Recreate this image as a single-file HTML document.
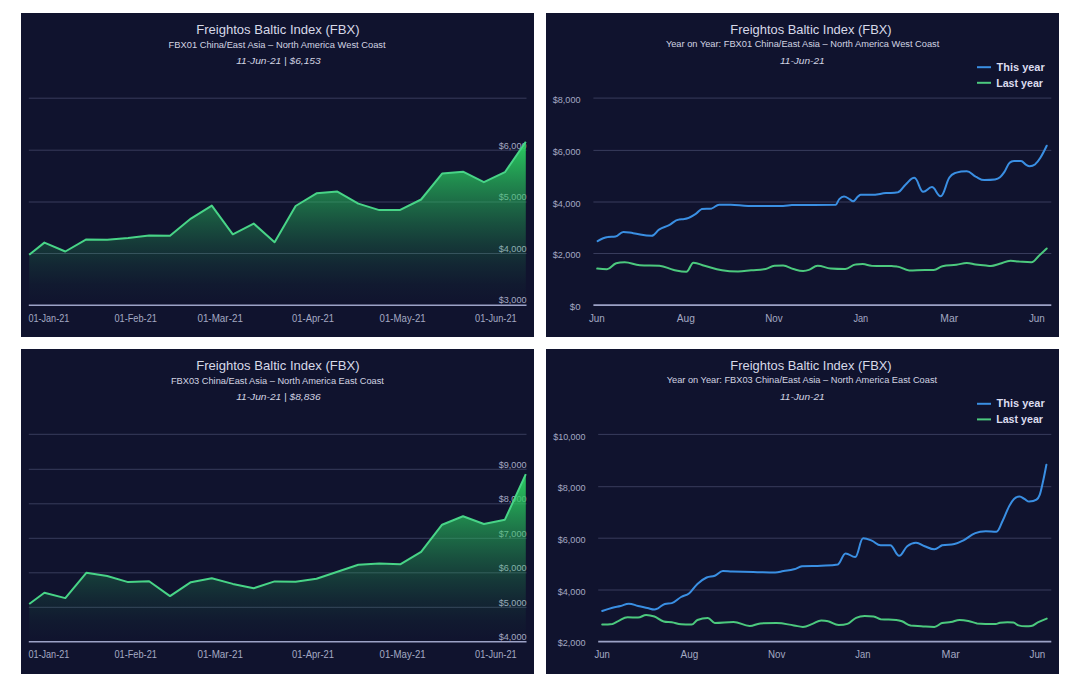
<!DOCTYPE html><html><head><meta charset="utf-8"><style>html,body{margin:0;padding:0;background:#fff;width:1080px;height:687px;overflow:hidden}svg{display:block}text{font-family:"Liberation Sans", sans-serif}</style></head><body>
<svg width="1080" height="687" viewBox="0 0 1080 687">
<defs><linearGradient id="g1" gradientUnits="userSpaceOnUse" x1="0" y1="142" x2="0" y2="305"><stop offset="0.000" stop-color="#2acd60" stop-opacity="1.000"/><stop offset="0.125" stop-color="#2acd60" stop-opacity="0.808"/><stop offset="0.250" stop-color="#2acd60" stop-opacity="0.631"/><stop offset="0.375" stop-color="#2acd60" stop-opacity="0.471"/><stop offset="0.500" stop-color="#2acd60" stop-opacity="0.330"/><stop offset="0.625" stop-color="#2acd60" stop-opacity="0.208"/><stop offset="0.750" stop-color="#2acd60" stop-opacity="0.109"/><stop offset="0.875" stop-color="#2acd60" stop-opacity="0.036"/><stop offset="1.000" stop-color="#2acd60" stop-opacity="0.000"/></linearGradient><linearGradient id="g3" gradientUnits="userSpaceOnUse" x1="0" y1="474" x2="0" y2="642"><stop offset="0.000" stop-color="#2acd60" stop-opacity="1.000"/><stop offset="0.125" stop-color="#2acd60" stop-opacity="0.808"/><stop offset="0.250" stop-color="#2acd60" stop-opacity="0.631"/><stop offset="0.375" stop-color="#2acd60" stop-opacity="0.471"/><stop offset="0.500" stop-color="#2acd60" stop-opacity="0.330"/><stop offset="0.625" stop-color="#2acd60" stop-opacity="0.208"/><stop offset="0.750" stop-color="#2acd60" stop-opacity="0.109"/><stop offset="0.875" stop-color="#2acd60" stop-opacity="0.036"/><stop offset="1.000" stop-color="#2acd60" stop-opacity="0.000"/></linearGradient></defs>
<rect x="0" y="0" width="1080" height="687" fill="#fff"/>
<rect x="21" y="13" width="513" height="324" fill="#10132e"/>
<text x="277.9" y="34" font-size="13" fill="#d7d9e8" text-anchor="middle" font-weight="normal" font-style="normal" textLength="163.5" lengthAdjust="spacingAndGlyphs">Freightos Baltic Index (FBX)</text>
<text x="277.1" y="47.6" font-size="9.2" fill="#d2d4e2" text-anchor="middle" font-weight="normal" font-style="normal" textLength="217" lengthAdjust="spacingAndGlyphs">FBX01 China/East Asia – North America West Coast</text>
<text x="278.4" y="64.4" font-size="9.3" fill="#d2d4e2" text-anchor="middle" font-weight="normal" font-style="italic" textLength="84.5" lengthAdjust="spacingAndGlyphs">11-Jun-21 | $6,153</text>
<line x1="28.8" y1="98.2" x2="526.5" y2="98.2" stroke="#383c5c" stroke-width="1"/>
<line x1="28.8" y1="150.2" x2="526.5" y2="150.2" stroke="#383c5c" stroke-width="1"/>
<line x1="28.8" y1="202" x2="526.5" y2="202" stroke="#383c5c" stroke-width="1"/>
<line x1="28.8" y1="253.5" x2="526.5" y2="253.5" stroke="#383c5c" stroke-width="1"/>
<line x1="28.8" y1="305.3" x2="526.5" y2="305.3" stroke="#9ca2c6" stroke-width="1.6"/>
<text x="526.5" y="148.5" font-size="9.6" fill="#a4a9c3" text-anchor="end" font-weight="normal" font-style="normal" textLength="27.8" lengthAdjust="spacingAndGlyphs">$6,000</text>
<text x="526.5" y="200.2" font-size="9.6" fill="#a4a9c3" text-anchor="end" font-weight="normal" font-style="normal" textLength="27.8" lengthAdjust="spacingAndGlyphs">$5,000</text>
<text x="526.5" y="251.6" font-size="9.6" fill="#a4a9c3" text-anchor="end" font-weight="normal" font-style="normal" textLength="27.8" lengthAdjust="spacingAndGlyphs">$4,000</text>
<text x="526.5" y="303.2" font-size="9.6" fill="#a4a9c3" text-anchor="end" font-weight="normal" font-style="normal" textLength="27.8" lengthAdjust="spacingAndGlyphs">$3,000</text>
<text x="28.4" y="321.6" font-size="10" fill="#a4a9c3" text-anchor="start" font-weight="normal" font-style="normal" textLength="40.9" lengthAdjust="spacingAndGlyphs">01-Jan-21</text>
<text x="114.4" y="321.6" font-size="10" fill="#a4a9c3" text-anchor="start" font-weight="normal" font-style="normal" textLength="42.5" lengthAdjust="spacingAndGlyphs">01-Feb-21</text>
<text x="197.4" y="321.6" font-size="10" fill="#a4a9c3" text-anchor="start" font-weight="normal" font-style="normal" textLength="45.5" lengthAdjust="spacingAndGlyphs">01-Mar-21</text>
<text x="292.1" y="321.6" font-size="10" fill="#a4a9c3" text-anchor="start" font-weight="normal" font-style="normal" textLength="42" lengthAdjust="spacingAndGlyphs">01-Apr-21</text>
<text x="379.6" y="321.6" font-size="10" fill="#a4a9c3" text-anchor="start" font-weight="normal" font-style="normal" textLength="46.1" lengthAdjust="spacingAndGlyphs">01-May-21</text>
<text x="475.1" y="321.6" font-size="10" fill="#a4a9c3" text-anchor="start" font-weight="normal" font-style="normal" textLength="41.6" lengthAdjust="spacingAndGlyphs">01-Jun-21</text>
<polygon points="29.2,254.8 44.4,242.6 65.3,251.5 86.3,239.4 107.2,239.8 128.1,237.9 149.1,235.5 170,235.7 190.9,218.6 211.8,205.6 232.8,234.3 253.7,223.6 274.6,242.2 295.6,206 316.5,193.3 337.4,191.6 358.3,203.6 379.3,210.1 400.2,209.9 421.1,199.5 442.1,173.6 463,171.7 483.9,182.2 504.9,172.2 525.8,141.8 525.8,305.3 29.2,305.3" fill="url(#g1)"/>
<polyline points="29.2,254.8 44.4,242.6 65.3,251.5 86.3,239.4 107.2,239.8 128.1,237.9 149.1,235.5 170,235.7 190.9,218.6 211.8,205.6 232.8,234.3 253.7,223.6 274.6,242.2 295.6,206 316.5,193.3 337.4,191.6 358.3,203.6 379.3,210.1 400.2,209.9 421.1,199.5 442.1,173.6 463,171.7 483.9,182.2 504.9,172.2 525.8,141.8" fill="none" stroke="#48d487" stroke-width="2" stroke-linejoin="round"/>
<rect x="21" y="349" width="513" height="325" fill="#10132e"/>
<text x="277.9" y="370" font-size="13" fill="#d7d9e8" text-anchor="middle" font-weight="normal" font-style="normal" textLength="163.5" lengthAdjust="spacingAndGlyphs">Freightos Baltic Index (FBX)</text>
<text x="277.4" y="383.6" font-size="9.2" fill="#d2d4e2" text-anchor="middle" font-weight="normal" font-style="normal" textLength="213" lengthAdjust="spacingAndGlyphs">FBX03 China/East Asia – North America East Coast</text>
<text x="278.4" y="400.4" font-size="9.3" fill="#d2d4e2" text-anchor="middle" font-weight="normal" font-style="italic" textLength="84.5" lengthAdjust="spacingAndGlyphs">11-Jun-21 | $8,836</text>
<line x1="28.8" y1="434.3" x2="526.5" y2="434.3" stroke="#383c5c" stroke-width="1"/>
<line x1="28.8" y1="469.3" x2="526.5" y2="469.3" stroke="#383c5c" stroke-width="1"/>
<line x1="28.8" y1="503.8" x2="526.5" y2="503.8" stroke="#383c5c" stroke-width="1"/>
<line x1="28.8" y1="538.3" x2="526.5" y2="538.3" stroke="#383c5c" stroke-width="1"/>
<line x1="28.8" y1="572.8" x2="526.5" y2="572.8" stroke="#383c5c" stroke-width="1"/>
<line x1="28.8" y1="607.3" x2="526.5" y2="607.3" stroke="#383c5c" stroke-width="1"/>
<line x1="28.8" y1="641.7" x2="526.5" y2="641.7" stroke="#9ca2c6" stroke-width="1.6"/>
<text x="526.5" y="467.5" font-size="9.6" fill="#a4a9c3" text-anchor="end" font-weight="normal" font-style="normal" textLength="27.8" lengthAdjust="spacingAndGlyphs">$9,000</text>
<text x="526.5" y="502" font-size="9.6" fill="#a4a9c3" text-anchor="end" font-weight="normal" font-style="normal" textLength="27.8" lengthAdjust="spacingAndGlyphs">$8,000</text>
<text x="526.5" y="536.5" font-size="9.6" fill="#a4a9c3" text-anchor="end" font-weight="normal" font-style="normal" textLength="27.8" lengthAdjust="spacingAndGlyphs">$7,000</text>
<text x="526.5" y="571" font-size="9.6" fill="#a4a9c3" text-anchor="end" font-weight="normal" font-style="normal" textLength="27.8" lengthAdjust="spacingAndGlyphs">$6,000</text>
<text x="526.5" y="605.5" font-size="9.6" fill="#a4a9c3" text-anchor="end" font-weight="normal" font-style="normal" textLength="27.8" lengthAdjust="spacingAndGlyphs">$5,000</text>
<text x="526.5" y="640" font-size="9.6" fill="#a4a9c3" text-anchor="end" font-weight="normal" font-style="normal" textLength="27.8" lengthAdjust="spacingAndGlyphs">$4,000</text>
<text x="28.4" y="657.8" font-size="10" fill="#a4a9c3" text-anchor="start" font-weight="normal" font-style="normal" textLength="40.9" lengthAdjust="spacingAndGlyphs">01-Jan-21</text>
<text x="114.4" y="657.8" font-size="10" fill="#a4a9c3" text-anchor="start" font-weight="normal" font-style="normal" textLength="42.5" lengthAdjust="spacingAndGlyphs">01-Feb-21</text>
<text x="197.4" y="657.8" font-size="10" fill="#a4a9c3" text-anchor="start" font-weight="normal" font-style="normal" textLength="45.5" lengthAdjust="spacingAndGlyphs">01-Mar-21</text>
<text x="292.1" y="657.8" font-size="10" fill="#a4a9c3" text-anchor="start" font-weight="normal" font-style="normal" textLength="42" lengthAdjust="spacingAndGlyphs">01-Apr-21</text>
<text x="379.6" y="657.8" font-size="10" fill="#a4a9c3" text-anchor="start" font-weight="normal" font-style="normal" textLength="46.1" lengthAdjust="spacingAndGlyphs">01-May-21</text>
<text x="475.1" y="657.8" font-size="10" fill="#a4a9c3" text-anchor="start" font-weight="normal" font-style="normal" textLength="41.6" lengthAdjust="spacingAndGlyphs">01-Jun-21</text>
<polygon points="29.2,604 44.4,592.8 65.3,598.1 86.3,572.8 107.2,576 128.1,582.1 149.1,581.2 170,596.1 190.9,582.2 211.8,578.3 232.8,583.9 253.7,588.2 274.6,581.4 295.6,581.7 316.5,578.7 337.4,571.7 358.3,564.7 379.3,563.5 400.2,564.3 421.1,551.8 442.1,524.7 463,516.2 483.9,524 504.9,519.7 525.8,474.2 525.8,641.7 29.2,641.7" fill="url(#g3)"/>
<polyline points="29.2,604 44.4,592.8 65.3,598.1 86.3,572.8 107.2,576 128.1,582.1 149.1,581.2 170,596.1 190.9,582.2 211.8,578.3 232.8,583.9 253.7,588.2 274.6,581.4 295.6,581.7 316.5,578.7 337.4,571.7 358.3,564.7 379.3,563.5 400.2,564.3 421.1,551.8 442.1,524.7 463,516.2 483.9,524 504.9,519.7 525.8,474.2" fill="none" stroke="#48d487" stroke-width="2" stroke-linejoin="round"/>
<rect x="546" y="13" width="513" height="324" fill="#10132e"/>
<text x="811" y="34" font-size="13" fill="#d7d9e8" text-anchor="middle" font-weight="normal" font-style="normal" textLength="161.3" lengthAdjust="spacingAndGlyphs">Freightos Baltic Index (FBX)</text>
<text x="802.6" y="47.2" font-size="9.2" fill="#d2d4e2" text-anchor="middle" font-weight="normal" font-style="normal" textLength="273.4" lengthAdjust="spacingAndGlyphs">Year on Year: FBX01 China/East Asia – North America West Coast</text>
<text x="802.3" y="64.4" font-size="9.3" fill="#d2d4e2" text-anchor="middle" font-weight="normal" font-style="italic" textLength="44.8" lengthAdjust="spacingAndGlyphs">11-Jun-21</text>
<line x1="977" y1="67.2" x2="991" y2="67.2" stroke="#3a8fe3" stroke-width="2"/>
<text x="996.6" y="70.7" font-size="10.8" fill="#dcdcee" text-anchor="start" font-weight="bold" font-style="normal" textLength="48.1" lengthAdjust="spacingAndGlyphs">This year</text>
<line x1="977" y1="82.8" x2="991" y2="82.8" stroke="#4cc97e" stroke-width="2"/>
<text x="996.2" y="86.5" font-size="10.8" fill="#dcdcee" text-anchor="start" font-weight="bold" font-style="normal" textLength="46.8" lengthAdjust="spacingAndGlyphs">Last year</text>
<line x1="593.4" y1="98.1" x2="1051.3" y2="98.1" stroke="#383c5c" stroke-width="1"/>
<line x1="593.4" y1="150.4" x2="1051.3" y2="150.4" stroke="#383c5c" stroke-width="1"/>
<line x1="593.4" y1="202" x2="1051.3" y2="202" stroke="#383c5c" stroke-width="1"/>
<line x1="593.4" y1="253.5" x2="1051.3" y2="253.5" stroke="#383c5c" stroke-width="1"/>
<line x1="593.4" y1="305.1" x2="1051.3" y2="305.1" stroke="#9ca2c6" stroke-width="1.6"/>
<text x="580.5" y="103.3" font-size="9.6" fill="#a4a9c3" text-anchor="end" font-weight="normal" font-style="normal" textLength="27.8" lengthAdjust="spacingAndGlyphs">$8,000</text>
<text x="580.5" y="155" font-size="9.6" fill="#a4a9c3" text-anchor="end" font-weight="normal" font-style="normal" textLength="27.8" lengthAdjust="spacingAndGlyphs">$6,000</text>
<text x="580.5" y="206.6" font-size="9.6" fill="#a4a9c3" text-anchor="end" font-weight="normal" font-style="normal" textLength="27.8" lengthAdjust="spacingAndGlyphs">$4,000</text>
<text x="580.5" y="258.2" font-size="9.6" fill="#a4a9c3" text-anchor="end" font-weight="normal" font-style="normal" textLength="27.8" lengthAdjust="spacingAndGlyphs">$2,000</text>
<text x="580.5" y="309.6" font-size="9.6" fill="#a4a9c3" text-anchor="end" font-weight="normal" font-style="normal">$0</text>
<text x="596.9" y="321.7" font-size="10" fill="#a4a9c3" text-anchor="middle" font-weight="normal" font-style="normal" textLength="15.9" lengthAdjust="spacingAndGlyphs">Jun</text>
<text x="685.8" y="321.7" font-size="10" fill="#a4a9c3" text-anchor="middle" font-weight="normal" font-style="normal" textLength="18.1" lengthAdjust="spacingAndGlyphs">Aug</text>
<text x="773.9" y="321.7" font-size="10" fill="#a4a9c3" text-anchor="middle" font-weight="normal" font-style="normal" textLength="17.4" lengthAdjust="spacingAndGlyphs">Nov</text>
<text x="860.8" y="321.7" font-size="10" fill="#a4a9c3" text-anchor="middle" font-weight="normal" font-style="normal" textLength="14.8" lengthAdjust="spacingAndGlyphs">Jan</text>
<text x="949.2" y="321.7" font-size="10" fill="#a4a9c3" text-anchor="middle" font-weight="normal" font-style="normal" textLength="17.9" lengthAdjust="spacingAndGlyphs">Mar</text>
<text x="1036.9" y="321.7" font-size="10" fill="#a4a9c3" text-anchor="middle" font-weight="normal" font-style="normal" textLength="15.9" lengthAdjust="spacingAndGlyphs">Jun</text>
<path d="M597.2,268.6 C597.2,268.6 603.1,269.2 607,269.2 C610.7,269.2 612.5,264.3 616.2,263.3 C619.6,262.3 621.3,262.3 624.7,262.3 C630.7,262.3 633.8,264.9 639.8,265.3 C647.6,265.7 651.6,265.3 659.4,265.7 C665.2,266.1 668,268.6 673.8,269.9 C678.8,271 681.3,271.8 686.3,271.8 C689.2,271.8 690.6,262.7 693.5,262.7 C697.9,262.7 700.1,264.6 704.5,265.8 C711.5,267.6 715,269 722,270.2 C728.4,271.3 731.6,271.4 738,271.4 C743.2,271.4 745.9,270.7 751.1,270.2 C756.9,269.7 759.9,270.1 765.7,269 C769.2,268.3 770.9,266 774.4,265.8 C777.9,265.6 779.6,265.6 783.1,265.6 C787.2,265.6 789.2,267.9 793.3,269 C797.2,270 799.2,270.9 803.1,270.9 C805.4,270.9 806.6,270.7 808.9,269.9 C812.4,268.7 814.1,265.8 817.6,265.8 C822.8,265.8 825.5,268 830.7,268.5 C836.5,269 839.5,269 845.3,269 C849.4,269 851.4,264.7 855.5,264.4 C858.4,264.1 859.8,264.1 862.7,264.1 C866.2,264.1 868,265.5 871.5,265.8 C879.6,266.1 883.7,265.9 891.8,266.1 C893.9,266.2 894.9,266.1 897,266.5 C901.9,266.9 904.3,270.4 909.2,270.4 C915.5,270.4 918.6,270 924.9,270 C928.4,270 930.2,270 933.7,270 C937.2,270 938.9,267 942.4,266.2 C948,264.9 950.8,265.5 956.4,264.8 C960.6,264.3 962.6,263 966.8,263 C970.3,263 972.1,263.9 975.6,264.4 C979.8,265 981.8,265.2 986,265.6 C988,265.8 988.9,266 990.9,266 C994.4,266 996.2,264.7 999.7,263.8 C1004.1,262.6 1006.2,260.7 1010.6,260.7 C1014.1,260.7 1015.8,261.3 1019.3,261.6 C1024.1,261.9 1026.6,262.2 1031.4,262.2 C1034.4,262.2 1036,258.4 1039,255.7 C1042.1,252.9 1046.7,248.5 1046.7,248.5" fill="none" stroke="#4cc97e" stroke-width="2" stroke-linejoin="round" stroke-linecap="round"/>
<path d="M597.6,241.1 C597.6,241.1 603.7,237.7 607.7,237.1 C610.8,236.5 612.4,237.1 615.5,236.5 C618.7,235.9 620.2,231.9 623.4,231.9 C627.3,231.9 629.3,232.7 633.2,233.2 C640.6,234.2 644.2,235.8 651.6,235.8 C654.7,235.8 656.3,231.2 659.4,229.3 C663.1,227 664.9,227.2 668.6,225.4 C672.8,223.3 674.8,219.9 679,219.5 C681.1,219.1 682.2,219.5 684.3,219.1 C688.9,218.7 691.2,216.5 695.8,213.8 C698.1,212.5 699.3,209.8 701.6,209.1 C705.7,208.4 707.7,209.1 711.8,208.4 C714.7,207.7 716.2,204.7 719.1,204.7 C723.7,204.7 726.1,204.7 730.7,204.7 C737.7,204.7 741.2,205.9 748.2,205.9 C762.2,205.9 769.1,205.9 783.1,205.9 C786.6,205.9 788.3,205.2 791.8,205 C809.4,204.8 818.1,205 835.7,204.8 C837.1,204.6 837.9,200.5 839.3,199.1 C841.2,197.2 842.1,196.6 844,196.6 C846,196.6 847.1,197.7 849.1,198.8 C850.7,199.6 851.5,201.3 853.1,201.3 C855,201.3 856,198.2 857.9,196.6 C859.1,195.6 859.6,194.8 860.8,194.8 C864.9,194.8 866.9,194.8 871,194.8 C877,194.8 880,193.7 886,193.1 C890.8,192.7 893.1,193.1 897.9,192.3 C901,191.5 902.6,187.1 905.7,184.4 C909.2,181.3 910.9,177.8 914.4,177.8 C917.9,177.8 919.7,191.8 923.2,191.8 C926.7,191.8 928.4,187.1 931.9,187.1 C935.4,187.1 937.1,196.3 940.6,196.3 C944.1,196.3 945.9,182.8 949.4,177.5 C952.2,173.3 953.6,173.9 956.4,172.6 C960.6,171.3 962.6,171.3 966.8,171.3 C970.3,171.3 972.1,174.8 975.6,176.6 C979.1,178.3 980.8,180.1 984.3,180.1 C988.5,180.1 990.6,180.1 994.8,179.6 C996.9,179.1 997.9,178.9 1000,177.2 C1001.8,175.8 1002.6,174.5 1004.4,171.9 C1006.5,168.8 1007.5,164.6 1009.6,162.8 C1011.4,161 1012.2,161 1014,161 C1016.8,161 1018.2,161 1021,161 C1023.1,161 1024.1,163.7 1026.2,164.9 C1027.6,165.7 1028.3,166.2 1029.7,166.2 C1031.8,166.2 1032.8,166.1 1034.9,164.5 C1037,162.8 1038.1,161.4 1040.2,158 C1042.8,153.9 1046.7,145.7 1046.7,145.7" fill="none" stroke="#3a8fe3" stroke-width="2" stroke-linejoin="round" stroke-linecap="round"/>
<rect x="546" y="349" width="513" height="325" fill="#10132e"/>
<text x="811" y="370" font-size="13" fill="#d7d9e8" text-anchor="middle" font-weight="normal" font-style="normal" textLength="161.3" lengthAdjust="spacingAndGlyphs">Freightos Baltic Index (FBX)</text>
<text x="801.9" y="383.2" font-size="9.2" fill="#d2d4e2" text-anchor="middle" font-weight="normal" font-style="normal" textLength="270.4" lengthAdjust="spacingAndGlyphs">Year on Year: FBX03 China/East Asia – North America East Coast</text>
<text x="802.3" y="400.4" font-size="9.3" fill="#d2d4e2" text-anchor="middle" font-weight="normal" font-style="italic" textLength="44.8" lengthAdjust="spacingAndGlyphs">11-Jun-21</text>
<line x1="977" y1="403.8" x2="991" y2="403.8" stroke="#3a8fe3" stroke-width="2"/>
<text x="996.6" y="407.3" font-size="10.8" fill="#dcdcee" text-anchor="start" font-weight="bold" font-style="normal" textLength="48.1" lengthAdjust="spacingAndGlyphs">This year</text>
<line x1="977" y1="419.4" x2="991" y2="419.4" stroke="#4cc97e" stroke-width="2"/>
<text x="996.2" y="423.1" font-size="10.8" fill="#dcdcee" text-anchor="start" font-weight="bold" font-style="normal" textLength="46.8" lengthAdjust="spacingAndGlyphs">Last year</text>
<line x1="598.2" y1="434.4" x2="1051.3" y2="434.4" stroke="#383c5c" stroke-width="1"/>
<line x1="598.2" y1="486.7" x2="1051.3" y2="486.7" stroke="#383c5c" stroke-width="1"/>
<line x1="598.2" y1="538.2" x2="1051.3" y2="538.2" stroke="#383c5c" stroke-width="1"/>
<line x1="598.2" y1="590" x2="1051.3" y2="590" stroke="#383c5c" stroke-width="1"/>
<line x1="598.2" y1="641.6" x2="1051.3" y2="641.6" stroke="#9ca2c6" stroke-width="1.6"/>
<text x="585.5" y="439.6" font-size="9.6" fill="#a4a9c3" text-anchor="end" font-weight="normal" font-style="normal" textLength="32.3" lengthAdjust="spacingAndGlyphs">$10,000</text>
<text x="585.5" y="491.2" font-size="9.6" fill="#a4a9c3" text-anchor="end" font-weight="normal" font-style="normal" textLength="27.8" lengthAdjust="spacingAndGlyphs">$8,000</text>
<text x="585.5" y="543" font-size="9.6" fill="#a4a9c3" text-anchor="end" font-weight="normal" font-style="normal" textLength="27.8" lengthAdjust="spacingAndGlyphs">$6,000</text>
<text x="585.5" y="594.8" font-size="9.6" fill="#a4a9c3" text-anchor="end" font-weight="normal" font-style="normal" textLength="27.8" lengthAdjust="spacingAndGlyphs">$4,000</text>
<text x="585.5" y="646.4" font-size="9.6" fill="#a4a9c3" text-anchor="end" font-weight="normal" font-style="normal" textLength="27.8" lengthAdjust="spacingAndGlyphs">$2,000</text>
<text x="602.2" y="657.8" font-size="10" fill="#a4a9c3" text-anchor="middle" font-weight="normal" font-style="normal" textLength="15.4" lengthAdjust="spacingAndGlyphs">Jun</text>
<text x="689.4" y="657.8" font-size="10" fill="#a4a9c3" text-anchor="middle" font-weight="normal" font-style="normal" textLength="17.7" lengthAdjust="spacingAndGlyphs">Aug</text>
<text x="776.7" y="657.8" font-size="10" fill="#a4a9c3" text-anchor="middle" font-weight="normal" font-style="normal" textLength="17.3" lengthAdjust="spacingAndGlyphs">Nov</text>
<text x="862.8" y="657.8" font-size="10" fill="#a4a9c3" text-anchor="middle" font-weight="normal" font-style="normal" textLength="15.1" lengthAdjust="spacingAndGlyphs">Jan</text>
<text x="950.7" y="657.8" font-size="10" fill="#a4a9c3" text-anchor="middle" font-weight="normal" font-style="normal" textLength="18.3" lengthAdjust="spacingAndGlyphs">Mar</text>
<text x="1037.4" y="657.8" font-size="10" fill="#a4a9c3" text-anchor="middle" font-weight="normal" font-style="normal" textLength="15.8" lengthAdjust="spacingAndGlyphs">Jun</text>
<path d="M602.2,624.6 C602.2,624.6 608.4,624.6 612.5,624 C614.8,623.4 616,622.1 618.3,621.1 C622,619.4 623.9,617.3 627.6,617.3 C631.8,617.3 633.9,617.6 638.1,617.6 C641.3,617.6 643,614.9 646.2,614.9 C649.5,614.9 651.1,615.3 654.4,616.5 C658.1,617.9 660,620.7 663.7,621.5 C666.9,622.3 668.6,621.8 671.8,622.3 C675.5,622.9 677.4,624 681.1,624.3 C685.3,624.6 687.4,624.6 691.6,624.6 C693.9,624.6 695.1,620.9 697.4,620 C701.6,618.3 703.6,618 707.8,618 C710.6,618 712,622.9 714.8,622.9 C722.2,622.9 726,621.9 733.4,621.9 C739.9,621.9 743.2,626 749.7,626 C753.9,626 756,623.7 760.2,623.4 C766.7,623.1 770,623.1 776.5,623.1 C783.5,623.1 786.9,624.4 793.9,625.4 C797.5,625.9 799.3,626.9 802.9,626.9 C806.7,626.9 808.7,625.3 812.5,623.9 C816,622.7 817.7,620.4 821.2,620.4 C824,620.4 825.4,620.5 828.2,621.3 C832.4,622.4 834.5,625.1 838.7,625.1 C842.2,625.1 843.9,625.1 847.4,623.9 C850.9,622.7 852.6,619.4 856.1,617.8 C859.6,616.2 861.3,616 864.8,616 C868.3,616 870.1,616 873.6,616.4 C876.4,616.8 877.8,618.5 880.6,619.2 C886.9,619.9 890,619.3 896.3,619.9 C898.6,620.1 899.7,620.4 902,621.3 C905.5,622.7 907.2,625 910.7,625.6 C914.9,626.2 917,626 921.2,626.2 C926.4,626.5 929.1,626.9 934.3,626.9 C937.4,626.9 939,623.9 942.1,623 C945.6,622.1 947.4,622.7 950.9,622.1 C954.4,621.5 956.1,619.9 959.6,619.9 C963.1,619.9 964.8,620.2 968.3,620.9 C971.8,621.6 973.6,622.8 977.1,623.4 C984.5,624 988.2,624 995.6,624 C997.4,624 998.2,623.1 1000,622.8 C1003,622.4 1004.4,622.3 1007.4,622.3 C1009.8,622.3 1010.9,622.3 1013.3,622.6 C1015.4,622.9 1016.4,624.8 1018.5,625.4 C1021.5,626.3 1022.9,626.3 1025.9,626.3 C1028,626.3 1029,626.3 1031.1,626 C1033.8,625.7 1035.1,623.7 1037.8,622.4 C1041.4,620.7 1046.7,618.6 1046.7,618.6" fill="none" stroke="#4cc97e" stroke-width="2" stroke-linejoin="round" stroke-linecap="round"/>
<path d="M602.2,611 C602.2,611 608.4,608.8 612.5,607.7 C615.7,606.8 617.4,606.8 620.6,606 C623.9,605.2 625.5,603.7 628.8,603.7 C632.5,603.7 634.4,605.1 638.1,606 C641.8,606.9 643.7,607.2 647.4,608 C650.2,608.6 651.6,609.5 654.4,609.5 C655.8,609.5 656.5,609 657.9,608.3 C660.7,606.8 662,604.9 664.8,604 C667.6,603.1 669,604 671.8,603.1 C675.5,602.2 677.4,599.1 681.1,597 C684.4,595.1 686,595.8 689.3,593.2 C692.5,590.6 694.2,586.8 697.4,583.9 C701.1,580.6 702.9,579.2 706.6,577.5 C709.9,576 711.5,577 714.8,575.7 C718,574.4 719.7,571.1 722.9,571.1 C726.6,571.1 728.5,571.5 732.2,571.6 C740.6,571.8 744.8,571.7 753.2,571.9 C762,572.1 766.5,572.6 775.3,572.6 C778.6,572.6 780.2,571.7 783.5,571.1 C787.7,570.4 789.7,570.4 793.9,569.3 C797.1,568.5 798.8,566.9 802,566.3 C809.7,565.7 813.5,566.1 821.2,565.7 C827.8,565.4 831.2,565.7 837.8,564.5 C840.9,563.3 842.5,553.5 845.6,553.5 C849.4,553.5 851.4,557 855.2,557 C858.4,557 859.9,538.3 863.1,538.3 C866.6,538.3 868.3,539.2 871.8,540.6 C875.3,542 877.1,545.3 880.6,545.3 C884.4,545.3 886.4,545.3 890.2,545.3 C893.8,545.3 895.6,555.8 899.2,555.8 C902.4,555.8 904,548.7 907.2,546.2 C910.7,543.5 912.5,542.7 916,542.7 C919.5,542.7 921.2,544.9 924.7,546.2 C928.5,547.6 930.5,549.3 934.3,549.3 C937.4,549.3 939,546.5 942.1,545.3 C947,544.1 949.5,545.2 954.4,544.1 C957.9,543.3 959.6,542.4 963.1,540.6 C968,538 970.4,535.1 975.3,533.1 C979.5,531.4 981.6,531.3 985.8,531.3 C990,531.3 992.2,531.7 996.4,531.7 C999,531.7 1000.2,525.6 1002.8,520.5 C1005.4,515.4 1006.6,511 1009.2,506.1 C1011.1,502.4 1012.1,500.7 1014,498.9 C1016.2,496.8 1017.4,496.5 1019.6,496.5 C1021.5,496.5 1022.5,497.9 1024.4,498.9 C1026.3,499.9 1027.3,501.6 1029.2,501.6 C1032.1,501.6 1033.6,501.6 1036.5,499.7 C1037.8,498.9 1038.4,498.4 1039.7,494.9 C1041,491.4 1041.6,487.8 1042.9,482 C1044.3,475.7 1046.4,464.7 1046.4,464.7" fill="none" stroke="#3a8fe3" stroke-width="2" stroke-linejoin="round" stroke-linecap="round"/>
</svg></body></html>
